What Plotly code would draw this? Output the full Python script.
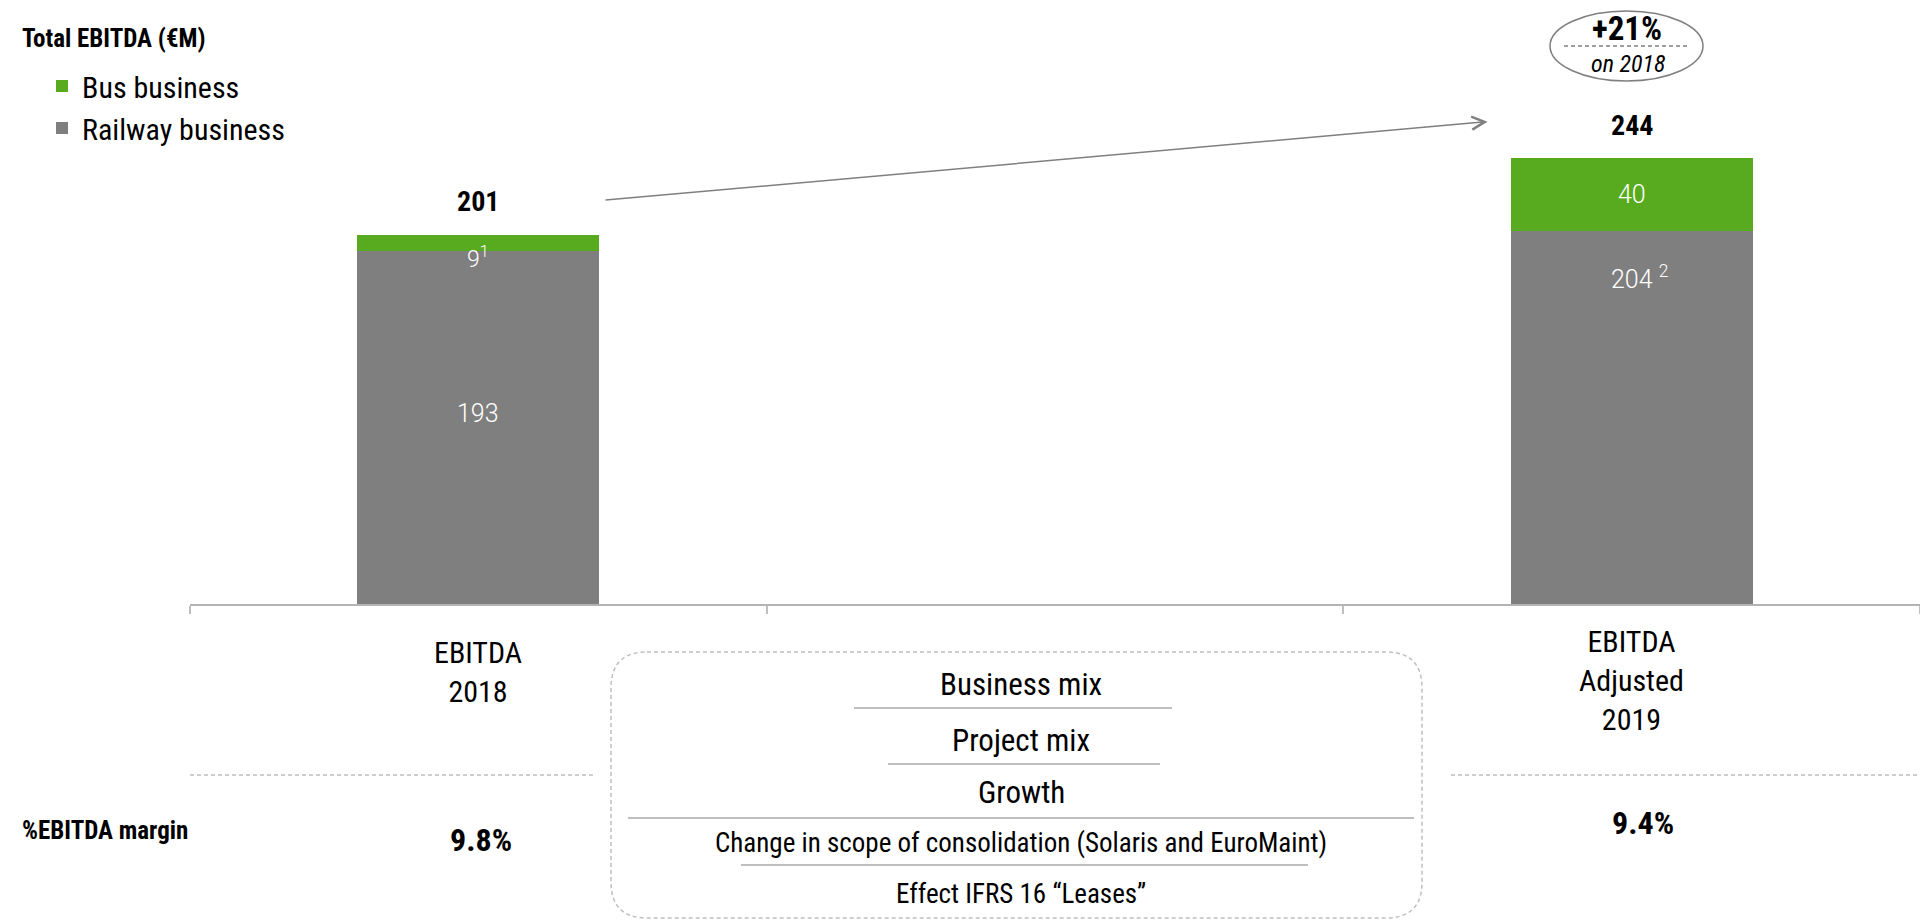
import plotly.graph_objects as go

# ---------------- data ----------------
period_labels = ["EBITDA<br>2018", "EBITDA<br>Adjusted<br>2019"]
middle_slot = "Drivers"
railway = [193, 204]
bus = [9, 40]
totals = [201, 244]
railway_labels = ["193", "204 <sup>2</sup>"]
bus_labels = ["9<sup>1</sup>", "40"]
ebitda_margin = ["9.8%", "9.4%"]
growth_text = "+21%"
growth_base = "on 2018"
drivers = ["Business mix", "Project mix", "Growth",
           "Change in scope of consolidation (Solaris and EuroMaint)",
           "Effect IFRS 16 \u201cLeases\u201d"]
series_names = ["Railway business", "Bus business"]
chart_title = "Total EBITDA (\u20acM)"
margin_title = "%EBITDA margin"

# ---------------- style ----------------
GREEN = "#58AB1F"
GRAY = "#7F7F7F"
LIGHT = "#BFBFBF"
NARROW = "Roboto Condensed, Liberation Sans Narrow, Arial Narrow, Liberation Sans, Arial, sans-serif"
THIN = "Helvetica Neue, Roboto, Liberation Sans, sans-serif"

W, H = 1920, 923
ML, MR, MT, MB = 190, 0, 0, 319
PX_PER_UNIT = 1.827
BAR_W = 0.42


def xp(px):
    return (px - ML) / (W - ML - MR)


def yp(py):
    return (H - MB - py) / (H - MT - MB)


slots = [period_labels[0], middle_slot, period_labels[1]]

fig = go.Figure()
fig.add_trace(go.Bar(x=period_labels, y=railway, name=series_names[0],
                     marker=dict(color=GRAY, line=dict(width=0)), width=BAR_W,
                     hovertemplate="%{y}<extra>Railway business</extra>"))
fig.add_trace(go.Bar(x=period_labels, y=bus, name=series_names[1],
                     marker=dict(color=GREEN, line=dict(width=0)), width=BAR_W,
                     hovertemplate="%{y}<extra>Bus business</extra>"))

ann = []
shapes = []

# totals above bars
for i, t in enumerate(totals):
    ann.append(dict(x=period_labels[i], y=railway[i] + bus[i], text=f"<b>{t}</b>",
                    showarrow=False, xanchor="center", yanchor="middle", yshift=33,
                    font=dict(family=NARROW, size=28, color="black")))

# segment labels
rail_frac = [0.54, 0.875]
rail_xshift = [0, 8]
for i, lab in enumerate(railway_labels):
    ann.append(dict(x=period_labels[i], y=railway[i] * rail_frac[i], text=lab,
                    showarrow=False, xanchor="center", yanchor="middle",
                    xshift=rail_xshift[i],
                    font=dict(family=THIN, size=25, color="white", weight=300)))
bus_yshift = [-14, 0]
bus_size = [23, 25]
for i, lab in enumerate(bus_labels):
    ann.append(dict(x=period_labels[i], y=railway[i] + bus[i] / 2, text=lab,
                    showarrow=False, xanchor="center", yanchor="middle",
                    yshift=bus_yshift[i],
                    font=dict(family=THIN, size=bus_size[i], color="white", weight=300)))

# category labels below axis
lab_y = [672, 680]
for i, lab in enumerate(period_labels):
    ann.append(dict(x=period_labels[i], xref="x", y=yp(lab_y[i]), yref="paper",
                    text=lab, showarrow=False, xanchor="center", yanchor="middle",
                    font=dict(family=NARROW, size=30, color="black")))

# EBITDA margin row
ann.append(dict(x=xp(20), xref="paper", y=yp(830), yref="paper",
                text=f"<b>{margin_title}</b>", showarrow=False,
                xanchor="left", yanchor="middle",
                font=dict(family=NARROW, size=25, color="black")))
m_y = [840, 823]
m_xs = [3, 11]
for i, m in enumerate(ebitda_margin):
    ann.append(dict(x=period_labels[i], xref="x", y=yp(m_y[i]), yref="paper",
                    text=f"<b>{m}</b>", showarrow=False,
                    xanchor="center", yanchor="middle", xshift=m_xs[i],
                    font=dict(family=NARROW, size=32, color="black")))

# dashed separators for the margin row
for x0, x1 in [(190, 594), (1451, 1920)]:
    shapes.append(dict(type="line", xref="paper", yref="paper",
                       x0=xp(x0), x1=xp(x1), y0=yp(775), y1=yp(775),
                       line=dict(color=LIGHT, width=1.5, dash="4px,3px")))

# growth arrow between the two totals
ann.append(dict(x=2 - BAR_W / 2 - 0.04, y=totals[1] + 20,
                ax=0 + BAR_W / 2 + 0.008, ay=totals[0] + 20,
                xref="x", yref="y", axref="x", ayref="y", text="",
                showarrow=True, arrowhead=5, arrowsize=1.7, arrowwidth=1.5,
                arrowcolor=GRAY, standoff=0, startstandoff=0))

# growth bubble
shapes.append(dict(type="circle", xref="paper", yref="paper",
                   x0=xp(1550), x1=xp(1703), y0=yp(81), y1=yp(11),
                   line=dict(color=GRAY, width=1.5), fillcolor="rgba(0,0,0,0)"))
shapes.append(dict(type="line", xref="paper", yref="paper",
                   x0=xp(1564), x1=xp(1688), y0=yp(46), y1=yp(46),
                   line=dict(color=GRAY, width=1.5, dash="4px,3px")))
ann.append(dict(x=xp(1627), xref="paper", y=yp(28), yref="paper",
                text=f"<b>{growth_text}</b>", showarrow=False,
                xanchor="center", yanchor="middle",
                font=dict(family=NARROW, size=33, color="black")))
ann.append(dict(x=xp(1628), xref="paper", y=yp(64), yref="paper",
                text=f"<i>{growth_base}</i>", showarrow=False,
                xanchor="center", yanchor="middle",
                font=dict(family=NARROW, size=24, color="black")))

# drivers box
bx0, bx1, by0, by1, r = 611, 1422, 652, 918, 36
pts = [
    ("M", [(bx0 + r, by0)]), ("L", [(bx1 - r, by0)]), ("Q", [(bx1, by0), (bx1, by0 + r)]),
    ("L", [(bx1, by1 - r)]), ("Q", [(bx1, by1), (bx1 - r, by1)]),
    ("L", [(bx0 + r, by1)]), ("Q", [(bx0, by1), (bx0, by1 - r)]),
    ("L", [(bx0, by0 + r)]), ("Q", [(bx0, by0), (bx0 + r, by0)]),
]
path = ""
for cmd, ps in pts:
    path += cmd + " " + " ".join(f"{xp(a):.5f},{yp(b):.5f}" for a, b in ps) + " "
path += "Z"
shapes.append(dict(type="path", xref="paper", yref="paper", path=path,
                   line=dict(color=LIGHT, width=1.5, dash="4px,3px"),
                   fillcolor="rgba(0,0,0,0)"))

d_y = [684, 740, 792, 843, 894]
d_size = [31, 31, 31, 27, 27]
for i, d in enumerate(drivers):
    ann.append(dict(x=xp(1021), xref="paper", y=yp(d_y[i]), yref="paper",
                    text=d, showarrow=False, xanchor="center", yanchor="middle",
                    font=dict(family=NARROW, size=d_size[i], color="black")))
for x0, x1, yy in [(854, 1172, 708), (888, 1160, 764), (628, 1414, 818), (741, 1308, 865)]:
    shapes.append(dict(type="line", xref="paper", yref="paper",
                       x0=xp(x0), x1=xp(x1), y0=yp(yy), y1=yp(yy),
                       line=dict(color=LIGHT, width=2)))

fig.update_layout(
    width=W, height=H, template="none",
    barmode="stack", bargap=0,
    margin=dict(l=ML, r=MR, t=MT, b=MB, pad=0),
    paper_bgcolor="white", plot_bgcolor="white",
    title=dict(text=f"<b>{chart_title}</b>", x=22 / W, xanchor="left", xref="container",
               y=1 - 38 / H, yanchor="middle", yref="container",
               font=dict(family=NARROW, size=25, color="black")),
    showlegend=True,
    legend=dict(x=xp(42), y=yp(60), xref="paper", yref="paper",
                xanchor="left", yanchor="top", traceorder="reversed",
                font=dict(family=NARROW, size=30, color="black"),
                bgcolor="rgba(0,0,0,0)", borderwidth=0, itemwidth=30),
    xaxis=dict(type="category", categoryorder="array", categoryarray=slots,
               range=[-0.5, 2.5], showticklabels=False, ticks="outside",
               tickson="boundaries", ticklen=8, tickcolor=LIGHT, tickwidth=1.5,
               showline=True, linecolor="#B3B3B3", linewidth=2,
               showgrid=False, zeroline=False, fixedrange=True),
    yaxis=dict(range=[0, (H - MT - MB) / PX_PER_UNIT], visible=False,
               showgrid=False, zeroline=False, fixedrange=True),
    annotations=ann, shapes=shapes,
)

fig.write_html("out.html", config={"displayModeBar": False},
               post_script="document.body.style.margin='0px';document.body.style.overflow='hidden';")
